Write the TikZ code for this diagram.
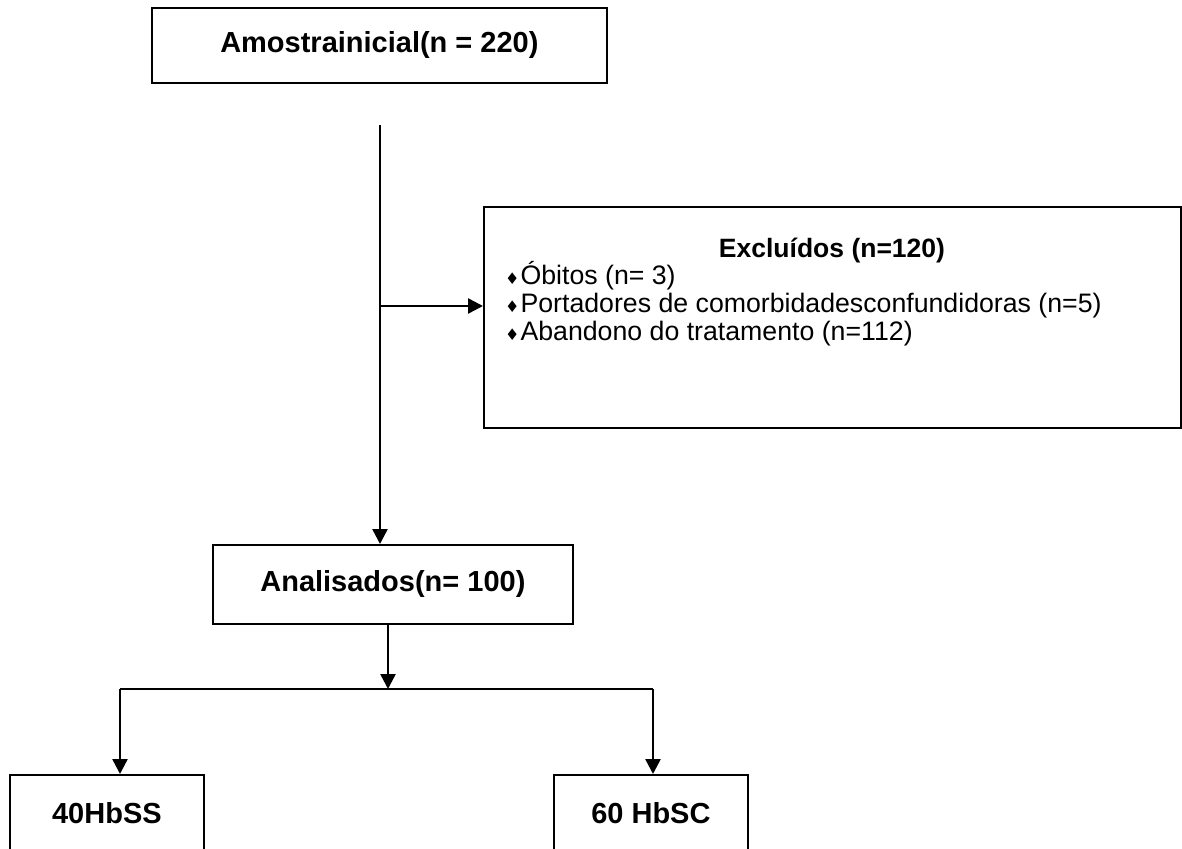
\documentclass[tikz,border=0pt]{standalone}
\usepackage{fontspec}
\setmainfont{Liberation Sans}
\newfontfamily\symfont{DejaVu Sans}
\usetikzlibrary{arrows.meta}
\tikzset{
  box/.style={draw, line width=1.8pt, inner sep=0pt, anchor=north west},
  bigbold/.style={font=\bfseries\fontsize{29}{34}\selectfont},
  listtext/.style={font=\fontsize{26.7}{28}\selectfont, inner sep=0pt, anchor=base west},
  conn/.style={line width=2.5pt},
  arr/.style={conn, -{Triangle[length=15pt,width=15pt]}}
}
\newcommand{\dia}{{\symfont\fontsize{16}{16}\selectfont ♦}\hspace{1pt}}
\begin{document}
\begin{tikzpicture}[x=1pt,y=-1pt]
\useasboundingbox (0,0) rectangle (1182,848);
\clip (0,0) rectangle (1182,848);
% boxes
\node[box, bigbold, minimum width=455pt, minimum height=75pt] (top) at (151,7) {Amostrainicial(n = 220)};
\node[box, minimum width=697pt, minimum height=221pt] (excl) at (483,206) {};
\node[box, bigbold, minimum width=360pt, minimum height=79pt] (anal) at (212,544) {Analisados(n= 100)};
\node[box, bigbold, minimum width=194pt, minimum height=76pt] (ss) at (9,774) {40HbSS};
\node[box, bigbold, minimum width=194pt, minimum height=76pt] (sc) at (553,774) {60 HbSC};
% excluded box text
\node[listtext, anchor=base, font=\bfseries\fontsize{26.5}{28}\selectfont] (exttl) at (832,257) {Excluídos (n=120)};
\node[listtext] (ex1) at (505,284) {\dia Óbitos (n= 3)};
\node[listtext] (ex2) at (505,312) {\dia Portadores de comorbidadesconfundidoras (n=5)};
\node[listtext] (ex3) at (505,340) {\dia Abandono do tratamento (n=112)};
% connectors
\coordinate (start) at (380,125);
\coordinate (split) at (380,306);
\draw[arr] (start) -- (start |- anal.north);
\draw[arr] (split) -- (split -| excl.west);
\coordinate (bsplit) at (388,689);
\coordinate (bl) at (120,689);
\coordinate (br) at (653,689);
\draw[arr] (anal.south -| bsplit) -- (bsplit);
\draw[conn] (bl) -- (br);
\draw[arr] (bl) -- (bl |- ss.north);
\draw[arr] (br) -- (br |- sc.north);
\end{tikzpicture}
\end{document}
